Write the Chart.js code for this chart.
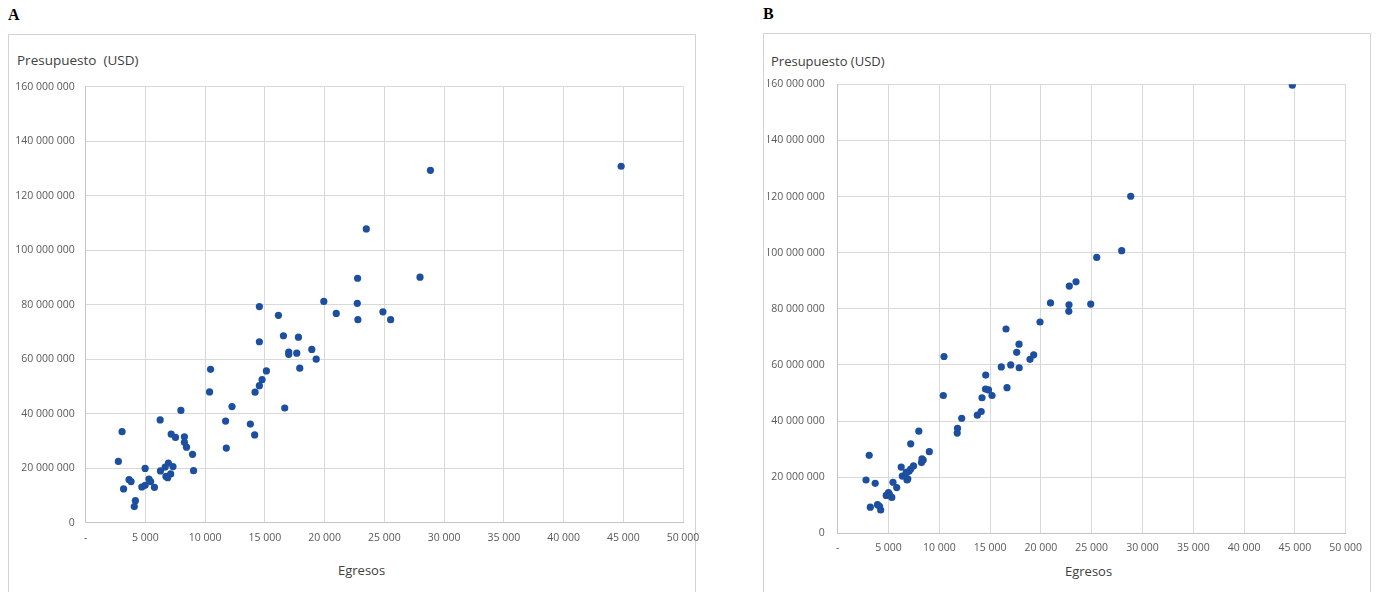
<!DOCTYPE html>
<html>
<head>
<meta charset="utf-8">
<script src="https://cdn.jsdelivr.net/npm/chart.js@4"></script>
<style>
  body { margin: 0; width: 1385px; height: 592px; background: #fff; position: relative; overflow: hidden; font-family: "Open Sans", sans-serif; }
  .frame { position: absolute; border: 1px solid #d4d4d4; box-sizing: border-box; }
  .panel-letter { position: absolute; font-family: "Liberation Serif", serif; font-weight: bold; font-size: 16px; line-height: 16px; color: #000; }
  .ytitle, .xtitle { position: absolute; color: #404040; line-height: 16px; white-space: pre; }
  canvas { position: absolute; top: 0; }
</style>
</head>
<body>

<div class="frame" style="left:8px; top:34px; width:688px; height:570px;"></div>
<div class="frame" style="left:763px; top:33px; width:608px; height:570px;"></div>

<div class="panel-letter" style="left:8px; top:7px;">A</div>
<div class="panel-letter" style="left:763px; top:6px;">B</div>

<div class="ytitle" style="left:17px; top:52px; font-size:13.5px;">Presupuesto  (USD)</div>
<div class="ytitle" style="left:771px; top:53px; font-size:13px;">Presupuesto (USD)</div>
<div class="xtitle" style="left:338px; top:562px; font-size:13px;">Egresos</div>
<div class="xtitle" style="left:1065px; top:563px; font-size:13px;">Egresos</div>

<canvas id="chartA" width="700" height="592" style="left:0px;"></canvas>
<canvas id="chartB" width="685" height="592" style="left:700px;"></canvas>

<script>
// panel A: egresos vs presupuesto (USD)
const egresosA = [2735, 3045, 3171, 3632, 3800, 4161, 4069, 4975, 4698, 4975, 5293, 5436, 5755, 6233, 6258, 6652, 6921, 6720, 6862, 7307, 7114, 7156, 7516, 7970, 8263, 8263, 8440, 8943, 9027, 10369, 10453, 11711, 11770, 12248, 13783, 14144, 14177, 14538, 14765, 14538, 14538, 15126, 16661, 16132, 16552, 16996, 16996, 17667, 17810, 17919, 18926, 19295, 19933, 20973, 22734, 22760, 22785, 23489, 24882, 25528, 27986, 28858, 44822];
const presupuestoA = [22500000, 33400000, 12400000, 15800000, 15100000, 8100000, 5900000, 19900000, 13100000, 13700000, 16000000, 15100000, 13000000, 37700000, 19000000, 20400000, 21900000, 17000000, 16500000, 20600000, 17900000, 32500000, 31300000, 41200000, 31500000, 29500000, 27700000, 25100000, 19100000, 48000000, 56300000, 37300000, 27400000, 42600000, 36200000, 32200000, 47900000, 50300000, 52500000, 66400000, 79300000, 55700000, 42100000, 76100000, 68600000, 62600000, 61800000, 62200000, 68100000, 56700000, 63600000, 60000000, 81200000, 76800000, 80500000, 89700000, 74500000, 107800000, 77400000, 74500000, 90100000, 129300000, 130800000];

// panel B
const egresosB = [2786, 3101, 3209, 3691, 3917, 4114, 4232, 4774, 5000, 5079, 5325, 5443, 5807, 6250, 6359, 6742, 7018, 6821, 6900, 7185, 7185, 7461, 7983, 8249, 8416, 8298, 9016, 10394, 10463, 11762, 11792, 12205, 13741, 14125, 14204, 14548, 14843, 15188, 14568, 16664, 16566, 16103, 17028, 17865, 17619, 17845, 18928, 19292, 19912, 20946, 22767, 22747, 22796, 23456, 24903, 25494, 27954, 28840, 44747];
const presupuestoB = [19000000, 27800000, 9300000, 17800000, 10200000, 9600000, 8300000, 13500000, 14500000, 14000000, 12800000, 18200000, 16300000, 23600000, 20400000, 21700000, 22100000, 19000000, 19400000, 31900000, 22900000, 24000000, 36400000, 25200000, 26100000, 26500000, 29100000, 49100000, 63000000, 35700000, 37400000, 41000000, 42100000, 43400000, 48300000, 51400000, 51100000, 49100000, 56400000, 51900000, 72800000, 59300000, 60000000, 59000000, 64500000, 67400000, 62000000, 63600000, 75300000, 82100000, 81400000, 79100000, 88100000, 89600000, 81700000, 98300000, 100700000, 120100000, 159700000];

const xMax = 50000, xStep = 5000;
const yMax = 160000000, yStep = 20000000;

const dotColor = "#1c4f9f";

function fmt(v) {
  return String(v).replace(/\B(?=(\d{3})+(?!\d))/g, " ");
}

function makeChart(id, xs, ys, pad, yLabelPad, xLabelPad) {
  const tickFont = { family: "Open Sans", size: 10.5 };
  return new Chart(document.getElementById(id), {
    type: "scatter",
    data: {
      datasets: [{
        data: xs.map((x, i) => ({ x: x, y: ys[i] })),
        backgroundColor: dotColor,
        borderWidth: 0,
        pointRadius: 3.6
      }]
    },
    options: {
      responsive: false,
      animation: false,
      layout: { padding: pad },
      plugins: { legend: { display: false }, tooltip: { enabled: false } },
      scales: {
        x: {
          type: "linear", min: 0, max: xMax,
          grid: { color: "#d9d9d9", drawTicks: false },
          border: { color: "#c4c4c4" },
          ticks: {
            stepSize: xStep, autoSkip: false, maxRotation: 0,
            padding: xLabelPad, color: "#595959", font: tickFont,
            callback: v => v === 0 ? "-" : fmt(v)
          },
          afterFit: s => { s.height = 40; s.paddingLeft = 0; s.paddingRight = 0; }
        },
        y: {
          type: "linear", min: 0, max: yMax,
          grid: { color: "#d9d9d9", drawTicks: false },
          border: { color: "#c4c4c4" },
          ticks: {
            stepSize: yStep, padding: yLabelPad, color: "#595959", font: tickFont,
            callback: v => fmt(v)
          },
          afterFit: s => { s.width = 70; s.paddingTop = 0; s.paddingBottom = 0; }
        }
      }
    }
  });
}

makeChart("chartA", egresosA, presupuestoA, { left: 15.7, right: 17, top: 86.7, bottom: 29.3 }, 11, 9.3);
makeChart("chartB", egresosB, presupuestoB, { left: 67.7, right: 39.3, top: 84.3, bottom: 18.7 }, 13, 8.7);
</script>
</body>
</html>
